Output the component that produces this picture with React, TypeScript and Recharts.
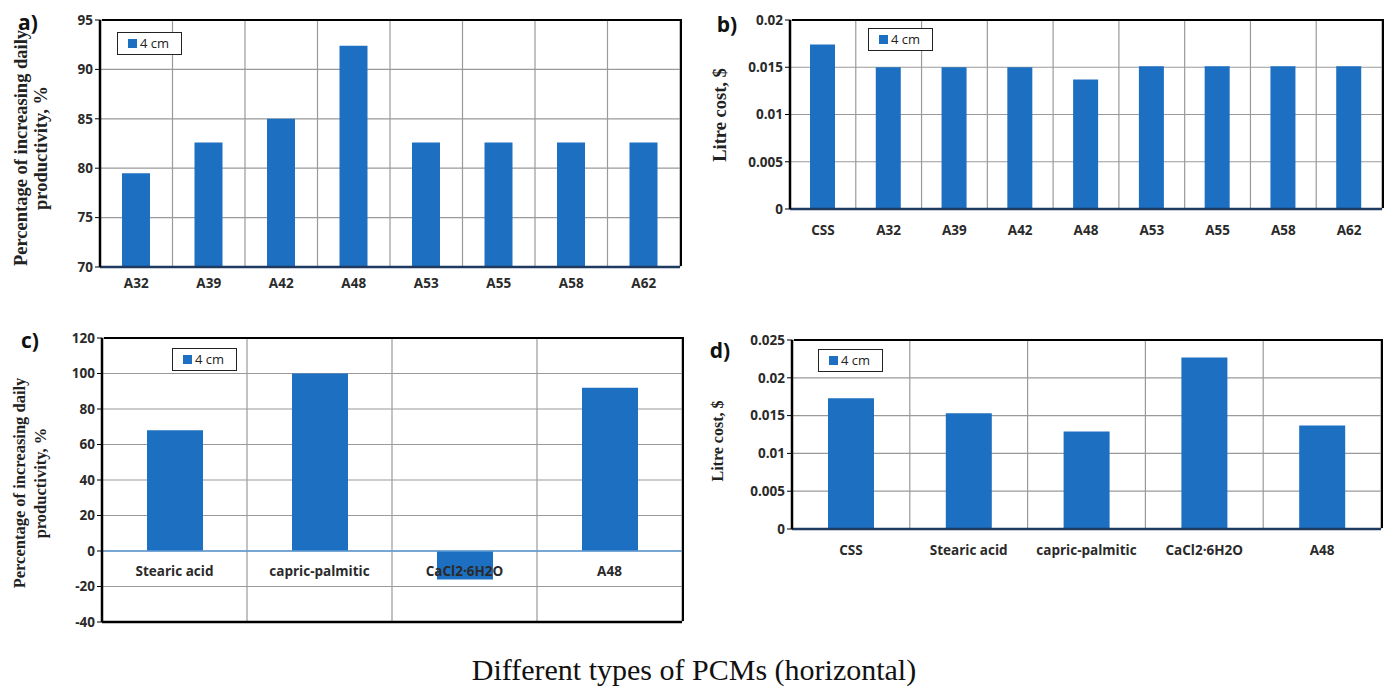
import { BarChart, Bar, XAxis, YAxis, CartesianGrid, Legend, ReferenceLine } from 'recharts';

const BLUE = '#1c6fc1';
const GRID = '#9a9a9a';
const NAVY = '#1f3a60';
const TICK_FONT = { fontSize: 13.5, fill: '#2a2a2a', fontWeight: 700, fontFamily: 'Open Sans' };

// a) productivity increase, paraffin grades
const A_CATS = ['A32', 'A39', 'A42', 'A48', 'A53', 'A55', 'A58', 'A62'];
const A_VALS = [79.5, 82.6, 85.0, 92.4, 82.6, 82.6, 82.6, 82.6];
const A_TICKS = [70, 75, 80, 85, 90, 95];

// b) litre cost, paraffin grades
const B_CATS = ['CSS', 'A32', 'A39', 'A42', 'A48', 'A53', 'A55', 'A58', 'A62'];
const B_VALS = [0.0174, 0.015, 0.015, 0.015, 0.0137, 0.0151, 0.0151, 0.0151, 0.0151];
const B_TICKS = [0, 0.005, 0.01, 0.015, 0.02];

// c) productivity increase, PCM types
const C_CATS = ['Stearic acid', 'capric-palmitic', 'CaCl2·6H2O', 'A48'];
const C_VALS = [68, 100, -16, 92];
const C_TICKS = [-40, -20, 0, 20, 40, 60, 80, 100, 120];

// d) litre cost, PCM types
const D_CATS = ['CSS', 'Stearic acid', 'capric-palmitic', 'CaCl2·6H2O', 'A48'];
const D_VALS = [0.0173, 0.0153, 0.0129, 0.0227, 0.0137];
const D_TICKS = [0, 0.005, 0.01, 0.015, 0.02, 0.025];

const toRows = (cats: string[], vals: number[]) => cats.map((name, i) => ({ name, value: vals[i] }));

const LegendBox = () => (
  <div
    style={{
      border: '1.5px solid #222',
      background: '#fff',
      display: 'inline-flex',
      alignItems: 'center',
      gap: 3,
      padding: '2px 12px 2px 10px',
      fontFamily: 'Open Sans',
      fontSize: 13,
      color: '#222',
      lineHeight: '17px',
    }}
  >
    <span style={{ width: 9, height: 9, background: BLUE, display: 'inline-block' }} />
    4 cm
  </div>
);

// vertical grid lines sit on category boundaries, not centres
const boundaries = (n: number) => ({ offset }: any) => {
  const out: number[] = [];
  for (let i = 0; i <= n; i++) out.push(offset.left + (offset.width * i) / n);
  return out;
};

interface PanelProps {
  cats: string[];
  vals: number[];
  ticks: number[];
  left: number;
  top: number;
  width: number;
  height: number;
  margin: { top: number; right: number; bottom: number; left: number };
  yWidth: number;
  xHeight: number;
  xGap: number;
  barSize: number;
  legendPos: { left: number; top: number };
  zeroLabels?: boolean;
}

const Panel = ({ cats, vals, ticks, left, top, width, height, margin, yWidth, xHeight, xGap, barSize, legendPos, zeroLabels }: PanelProps) => {
  const min = ticks[0];
  const max = ticks[ticks.length - 1];
  const plotW = width - margin.left - margin.right - yWidth;
  const plotH = height - margin.top - margin.bottom - xHeight;
  const zeroUp = (plotH * (0 - min)) / (max - min);

  const ZeroTick = (props: any) => {
    const { x, y, payload } = props;
    return (
      <text x={x} y={y - zeroUp + 21} textAnchor="middle" dominantBaseline="middle" {...TICK_FONT}>
        {payload.value}
      </text>
    );
  };

  return (
    <div style={{ position: 'absolute', left, top, width, height }}>
      <BarChart width={width} height={height} data={toRows(cats, vals)} margin={margin}>
        <CartesianGrid stroke={GRID} strokeWidth={1.2} verticalCoordinatesGenerator={boundaries(cats.length)} />
        <XAxis
          dataKey="name"
          interval={0}
          height={xHeight}
          tickLine={false}
          tickSize={zeroLabels ? 0 : 6}
          tickMargin={zeroLabels ? 0 : xGap}
          axisLine={{ stroke: zeroLabels ? '#000' : NAVY, strokeWidth: 2.5 }}
          tick={zeroLabels ? ZeroTick : TICK_FONT}
        />
        <YAxis
          domain={[min, max]}
          ticks={ticks}
          width={yWidth}
          interval={0}
          tick={TICK_FONT}
          tickLine={{ stroke: '#000' }}
          tickSize={5}
          axisLine={{ stroke: '#000', strokeWidth: 2.5 }}
        />
        {zeroLabels && <ReferenceLine y={0} stroke="#5b9bd5" strokeWidth={1.5} />}
        <Legend
          content={<LegendBox />}
          layout="horizontal"
          verticalAlign="middle"
          wrapperStyle={{ left: legendPos.left, top: legendPos.top, width: 'auto' }}
        />
        <Bar dataKey="value" name="4 cm" fill={BLUE} barSize={barSize} isAnimationActive={false} />
      </BarChart>
      {/* top and right edges of the plot frame */}
      <div
        style={{
          position: 'absolute',
          left: margin.left + yWidth,
          top: margin.top - 1,
          width: plotW,
          height: plotH,
          borderTop: '2.5px solid #000',
          borderRight: '2.5px solid #000',
          boxSizing: 'border-box',
          pointerEvents: 'none',
          marginLeft: 1.5,
        }}
      />
    </div>
  );
};

const serifLabel = {
  position: 'absolute' as const,
  transform: 'translate(-50%, -50%) rotate(-90deg)',
  fontFamily: 'Liberation Serif',
  fontWeight: 700,
  color: '#222',
  textAlign: 'center' as const,
  whiteSpace: 'nowrap' as const,
};

const letter = {
  position: 'absolute' as const,
  transform: 'translate(-50%, -50%)',
  fontFamily: 'Open Sans',
  fontWeight: 700,
  fontSize: 21,
  color: '#111',
};

export default function App() {
  return (
    <div style={{ position: 'absolute', left: 0, top: 0, width: 1389, height: 693, background: '#fff', overflow: 'hidden' }}>
      <Panel
        cats={A_CATS} vals={A_VALS} ticks={A_TICKS}
        left={0} top={0} width={690} height={300}
        margin={{ top: 20, right: 10, bottom: 3, left: 60 }}
        yWidth={40} xHeight={30} xGap={5} barSize={28} legendPos={{ left: 117, top: 32 }}
      />
      <Panel
        cats={B_CATS} vals={B_VALS} ticks={B_TICKS}
        left={700} top={0} width={689} height={260}
        margin={{ top: 20, right: 7, bottom: 21, left: 40 }}
        yWidth={50} xHeight={30} xGap={10} barSize={25} legendPos={{ left: 168, top: 28 }}
      />
      <Panel
        cats={C_CATS} vals={C_VALS} ticks={C_TICKS}
        left={0} top={320} width={690} height={320}
        margin={{ top: 18, right: 8, bottom: 0, left: 52 }}
        yWidth={50} xHeight={18} xGap={0} barSize={56} legendPos={{ left: 172, top: 28 }} zeroLabels
      />
      <Panel
        cats={D_CATS} vals={D_VALS} ticks={D_TICKS}
        left={700} top={330} width={689} height={260}
        margin={{ top: 10, right: 8, bottom: 31, left: 42 }}
        yWidth={50} xHeight={30} xGap={10} barSize={46} legendPos={{ left: 118, top: 19 }}
      />

      <div style={{ ...serifLabel, left: 31, top: 148, fontSize: 18.5, lineHeight: '20px' }}>
        Percentage of increasing daily
        <br />
        productivity, %
      </div>
      <div style={{ ...serifLabel, left: 720, top: 115, fontSize: 18.5 }}>Litre cost, $</div>
      <div style={{ ...serifLabel, left: 30, top: 483, fontSize: 16.5, lineHeight: '21px' }}>
        Percentage of increasing daily
        <br />
        productivity, %
      </div>
      <div style={{ ...serifLabel, left: 718, top: 441, fontSize: 16 }}>Litre cost, $</div>

      <div style={{ ...letter, left: 28, top: 22 }}>a)</div>
      <div style={{ ...letter, left: 727, top: 24 }}>b)</div>
      <div style={{ ...letter, left: 30, top: 340 }}>c)</div>
      <div style={{ ...letter, left: 720, top: 350 }}>d)</div>

      <div
        style={{
          position: 'absolute',
          left: 694,
          top: 670,
          transform: 'translate(-50%, -50%)',
          fontFamily: 'Liberation Serif',
          fontSize: 30,
          color: '#111',
          whiteSpace: 'nowrap',
        }}
      >
        Different types of PCMs (horizontal)
      </div>
    </div>
  );
}
